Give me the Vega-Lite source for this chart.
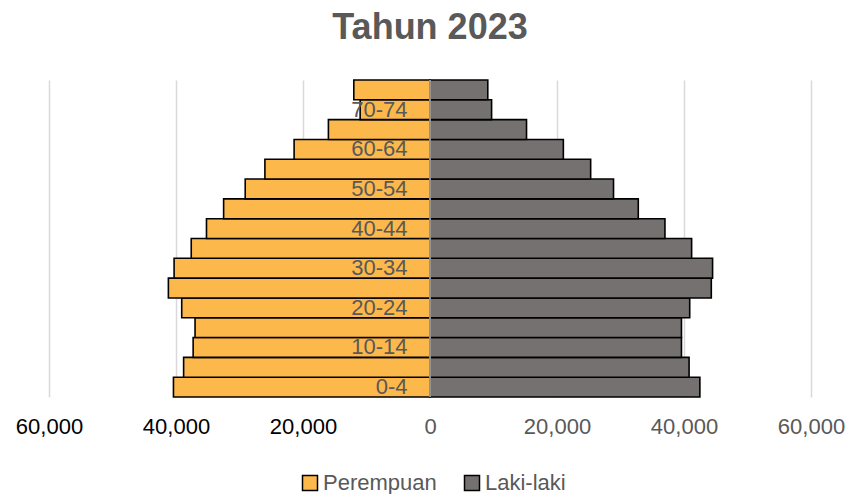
{
  "$schema": "https://vega.github.io/schema/vega-lite/v6.json",
  "width": 762,
  "height": 317,
  "autosize": "none",
  "padding": {"left": 49, "top": 80, "right": 40, "bottom": 97},
  "background": "white",
  "config": {
    "font": "Liberation Sans",
    "view": {"stroke": null}
  },
  "title": {
    "text": "Tahun 2023",
    "fontSize": 36,
    "fontWeight": "bold",
    "color": "#595959",
    "font": "Liberation Sans",
    "offset": 32,
    "anchor": "middle"
  },
  "data": {
    "values": [
      {"umur": "0-4", "jenis": "Perempuan", "jumlah": -40400},
      {"umur": "5-9", "jenis": "Perempuan", "jumlah": -38800},
      {"umur": "10-14", "jenis": "Perempuan", "jumlah": -37300},
      {"umur": "15-19", "jenis": "Perempuan", "jumlah": -37000},
      {"umur": "20-24", "jenis": "Perempuan", "jumlah": -39100},
      {"umur": "25-29", "jenis": "Perempuan", "jumlah": -41200},
      {"umur": "30-34", "jenis": "Perempuan", "jumlah": -40300},
      {"umur": "35-39", "jenis": "Perempuan", "jumlah": -37600},
      {"umur": "40-44", "jenis": "Perempuan", "jumlah": -35200},
      {"umur": "45-49", "jenis": "Perempuan", "jumlah": -32500},
      {"umur": "50-54", "jenis": "Perempuan", "jumlah": -29100},
      {"umur": "55-59", "jenis": "Perempuan", "jumlah": -26000},
      {"umur": "60-64", "jenis": "Perempuan", "jumlah": -21400},
      {"umur": "65-69", "jenis": "Perempuan", "jumlah": -16000},
      {"umur": "70-74", "jenis": "Perempuan", "jumlah": -11000},
      {"umur": "75+", "jenis": "Perempuan", "jumlah": -12000},
      {"umur": "0-4", "jenis": "Laki-laki", "jumlah": 42500},
      {"umur": "5-9", "jenis": "Laki-laki", "jumlah": 40800},
      {"umur": "10-14", "jenis": "Laki-laki", "jumlah": 39600},
      {"umur": "15-19", "jenis": "Laki-laki", "jumlah": 39600},
      {"umur": "20-24", "jenis": "Laki-laki", "jumlah": 40900},
      {"umur": "25-29", "jenis": "Laki-laki", "jumlah": 44300},
      {"umur": "30-34", "jenis": "Laki-laki", "jumlah": 44500},
      {"umur": "35-39", "jenis": "Laki-laki", "jumlah": 41200},
      {"umur": "40-44", "jenis": "Laki-laki", "jumlah": 37000},
      {"umur": "45-49", "jenis": "Laki-laki", "jumlah": 32800},
      {"umur": "50-54", "jenis": "Laki-laki", "jumlah": 28900},
      {"umur": "55-59", "jenis": "Laki-laki", "jumlah": 25300},
      {"umur": "60-64", "jenis": "Laki-laki", "jumlah": 21000},
      {"umur": "65-69", "jenis": "Laki-laki", "jumlah": 15200},
      {"umur": "70-74", "jenis": "Laki-laki", "jumlah": 9700},
      {"umur": "75+", "jenis": "Laki-laki", "jumlah": 9100}
    ]
  },
  "layer": [
    {
      "mark": {"type": "bar", "stroke": "black", "strokeWidth": 1.6},
      "encoding": {
        "y": {
          "field": "umur",
          "type": "nominal",
          "sort": ["75+", "70-74", "65-69", "60-64", "55-59", "50-54", "45-49", "40-44", "35-39", "30-34", "25-29", "20-24", "15-19", "10-14", "5-9", "0-4"],
          "scale": {"paddingInner": 0, "paddingOuter": 0},
          "axis": {
            "title": null,
            "values": ["70-74", "60-64", "50-54", "40-44", "30-34", "20-24", "10-14", "0-4"],
            "offset": -358,
            "labelPadding": 0,
            "ticks": false,
            "tickSize": 0,
            "domain": false,
            "labelFontSize": 22,
            "labelColor": "#595959",
            "labelFont": "Liberation Sans",
            "zindex": 1
          }
        },
        "x": {
          "field": "jumlah",
          "type": "quantitative",
          "scale": {"domain": [-60000, 60000], "nice": false},
          "axis": {
            "title": null,
            "values": [-60000, -40000, -20000, 0, 20000, 40000, 60000],
            "labelExpr": "format(abs(datum.value), ',')",
            "labelColor": {"expr": "datum.value < 0 ? '#000000' : '#595959'"},
            "labelFontSize": 22,
            "labelFont": "Liberation Sans",
            "labelPadding": 19,
            "ticks": false,
            "tickSize": 0,
            "domain": false,
            "grid": true,
            "gridColor": "#D9D9D9",
            "gridWidth": 1.5,
            "labelFlush": false,
            "labelOverlap": false
          }
        },
        "color": {
          "field": "jenis",
          "type": "nominal",
          "scale": {"domain": ["Perempuan", "Laki-laki"], "range": ["#FDB84C", "#767171"]},
          "legend": {
            "title": null,
            "orient": "none",
            "legendX": 250,
            "legendY": 392,
            "padding": 0,
            "direction": "horizontal",
            "symbolType": "square",
            "symbolSize": 225,
            "symbolStrokeColor": "black",
            "symbolStrokeWidth": 1.5,
            "symbolOpacity": 1,
            "labelFontSize": 22,
            "labelColor": "#595959",
            "labelFont": "Liberation Sans",
            "labelOffset": 2,
            "columnPadding": 24
          }
        }
      }
    },
    {
      "data": {"values": [{"nol": 0}]},
      "mark": {"type": "rule", "color": "#BFBFBF", "strokeWidth": 1.5},
      "encoding": {
        "x": {"field": "nol", "type": "quantitative"}
      }
    }
  ]
}
